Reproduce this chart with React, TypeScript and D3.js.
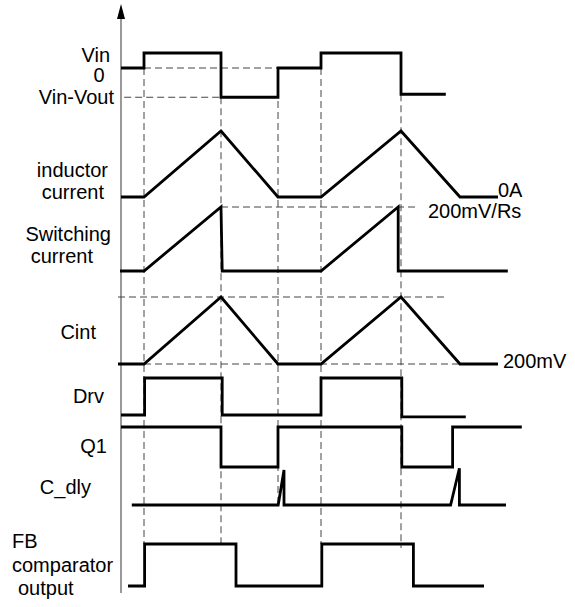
import React from "react";
import * as d3 from "d3";

// Time axis (arbitrary units) shared by every waveform
const switchTimes = [5.75, 25, 39.25, 50, 70];

// Each waveform: [time, level] breakpoints, level in the row's own units
const vinWave: [number, number][] = [
  [0, 0], [5.75, 0], [5.75, 1], [25, 1], [25, -1.95], [39.25, -1.95], [39.25, 0],
  [50, 0], [50, 1], [70, 1], [70, -1.75], [81.2, -1.75],
];
const inductorWave: [number, number][] = [
  [0, 0], [5.75, 0], [25, 1], [39.25, 0], [50, 0], [70, 1], [84.75, 0], [94.25, 0],
];
const switchingWave: [number, number][] = [
  [-0.25, 0], [5.75, 0], [25, 1], [25.3, 0], [50, 0], [69.3, 1], [69.3, 0], [96.7, 0],
];
const cintWave: [number, number][] = [
  [-0.75, 0], [5.75, 0], [25, 1], [39.25, 0], [50, 0], [70, 1], [84.75, 0], [94.25, 0],
];
const drvWave: [number, number][] = [
  [0, 0], [5.9, 0], [5.9, 1], [25.3, 1], [25.3, 0], [50, 0], [50, 1], [70.2, 1],
  [70.2, -0.05], [86.2, -0.05],
];
const q1Wave: [number, number][] = [
  [0, 1], [25, 1], [25, 0], [39.25, 0], [39.25, 1], [70.2, 1], [70.2, 0], [82.9, 0],
  [82.9, 1], [100.2, 1],
];
const cdlyWave: [number, number][] = [
  [2.7, 0], [39.3, 0], [40.75, 1], [40.75, 0], [82.4, 0], [84.6, 1.05], [84.6, 0], [96.25, 0],
];
const fbWave: [number, number][] = [
  [1.75, 0], [5.9, 0], [5.9, 1], [28.75, 1], [28.75, 0], [50.2, 0], [50.2, 1], [73.1, 1],
  [73.1, 0], [90.75, 0],
];

// Left-hand signal names (one entry per text line)
const signalLabels = [
  "Vin", "0", "Vin-Vout", "inductor", "current", "Switching", "current",
  "Cint", "Drv", "Q1", "C_dly", "FB", "comparator", "output",
];
// Right-hand level annotations
const levelLabels = ["0A", "200mV/Rs", "200mV"];

const W = 575;
const H = 607;
const x = d3.scaleLinear().domain([0, 100]).range([121, 521]);

// Row scales: level 0 -> low pixel, level 1 -> high pixel
const row = (low: number, high: number) => d3.scaleLinear().domain([0, 1]).range([low, high]);
const yVin = row(68, 53);
const yInd = row(197, 131);
const ySw = row(271, 207);
const yCint = row(364, 297);
const yDrv = row(415, 378);
const yQ1 = row(467, 427);
const yCdly = row(505, 470);
const yFb = row(586, 544);

const waves: { data: [number, number][]; y: d3.ScaleLinear<number, number> }[] = [
  { data: vinWave, y: yVin },
  { data: inductorWave, y: yInd },
  { data: switchingWave, y: ySw },
  { data: cintWave, y: yCint },
  { data: drvWave, y: yDrv },
  { data: q1Wave, y: yQ1 },
  { data: cdlyWave, y: yCdly },
  { data: fbWave, y: yFb },
];

// Vertical guide extents for each switching instant
const guideSpans: [number, number][] = [
  [yVin(0), yFb(1)],
  [yVin(-1.95), yFb(1) + 4],
  [yVin(0), yCdly(0)],
  [yVin(0), yFb(1)],
  [yVin(-1.75), yFb(1) + 4],
];

export default function App() {
  const line = (y: d3.ScaleLinear<number, number>) =>
    d3.line<[number, number]>().x((d) => x(d[0])).y((d) => y(d[1]));

  const font = "'Liberation Sans', Arial, Helvetica, sans-serif";
  const dash = { stroke: "#444", strokeWidth: 1, strokeDasharray: "7,4", fill: "none" };

  // label placement: [x, y, anchor]
  const labelPos: [number, number, string][] = [
    [110, 62, "end"],
    [99, 82, "middle"],
    [114, 104, "end"],
    [108, 177, "end"],
    [104, 199, "end"],
    [111, 241, "end"],
    [93, 263, "end"],
    [96, 339, "end"],
    [104, 403, "end"],
    [107, 453, "end"],
    [91, 494, "end"],
    [12, 548, "start"],
    [12, 572, "start"],
    [18, 595, "start"],
  ];
  const levelPos: [number, number][] = [
    [498, 197],
    [428, 218],
    [503, 368],
  ];

  return (
    <svg
      width={W}
      height={H}
      viewBox={`0 0 ${W} ${H}`}
      style={{ position: "absolute", left: 0, top: 0, background: "#fff" }}
    >
      <rect width={W} height={H} fill="#fff" />

      {/* vertical axis with arrow */}
      <line x1={x(0)} x2={x(0)} y1={16} y2={593} stroke="#777" strokeWidth={1.5} />
      <path d={`M${x(0)},4 L${x(0) - 4},19 L${x(0) + 4},19 Z`} fill="#000" />

      {/* vertical switching guides */}
      {switchTimes.map((t, i) => (
        <line key={"v" + i} x1={x(t)} x2={x(t)} y1={guideSpans[i][0]} y2={guideSpans[i][1]} {...dash} />
      ))}

      {/* horizontal reference guides */}
      <line x1={x(5.75)} x2={x(39.25)} y1={yVin(0)} y2={yVin(0)} {...dash} />
      <line x1={x(0.8)} x2={x(25)} y1={yVin(-1.95)} y2={yVin(-1.95)} {...dash} />
      <line x1={x(25)} x2={x(74.25)} y1={ySw(1)} y2={ySw(1)} {...dash} />
      <line x1={x(-0.75)} x2={x(81.4)} y1={yCint(1)} y2={yCint(1)} {...dash} />
      <line x1={x(5.75)} x2={x(84.75)} y1={yCint(0)} y2={yCint(0)} {...dash} />

      {/* waveforms */}
      {waves.map((w, i) => (
        <path
          key={"w" + i}
          d={line(w.y)(w.data) || ""}
          fill="none"
          stroke="#000"
          strokeWidth={2.8}
          strokeLinejoin="miter"
        />
      ))}

      {/* signal names */}
      {signalLabels.map((s, i) => (
        <text
          key={"l" + i}
          x={labelPos[i][0]}
          y={labelPos[i][1]}
          textAnchor={labelPos[i][2] as any}
          fontFamily={font}
          fontSize={20}
          fill="#000"
        >
          {s}
        </text>
      ))}

      {/* level annotations */}
      {levelLabels.map((s, i) => (
        <text key={"r" + i} x={levelPos[i][0]} y={levelPos[i][1]} fontFamily={font} fontSize={20} fill="#000">
          {s}
        </text>
      ))}
    </svg>
  );
}
